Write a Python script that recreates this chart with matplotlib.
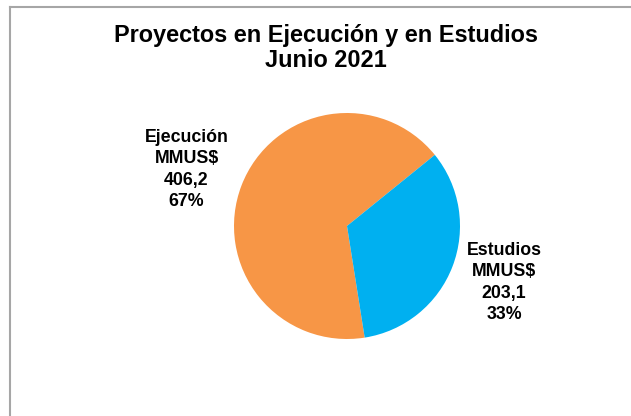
import matplotlib
matplotlib.use('Agg')
import matplotlib.pyplot as plt
from matplotlib.lines import Line2D

### data
categories = ['Ejecución', 'Estudios']
amounts = [406.2, 203.1]
colors = ['#F79646', '#00B0F0']
title = 'Proyectos en Ejecución y en Estudios\nJunio 2021'

plt.rcParams['font.family'] = ['Liberation Sans', 'DejaVu Sans']

total = sum(amounts)
labels = []
for name, val in zip(categories, amounts):
    pct = round(100.0 * val / total)
    labels.append('%s\nMMUS$\n%s\n%d%%' % (name, ('%.1f' % val).replace('.', ','), pct))

fig = plt.figure(figsize=(6.31, 4.16), dpi=100)

### frame lines (top and left, as in the cropped source)
fig.add_artist(Line2D([10/631., 1.0], [1 - 7/416., 1 - 7/416.], color='#a6a6a6', lw=1.5))
fig.add_artist(Line2D([10/631., 10/631.], [0.0, 1 - 7/416.], color='#a6a6a6', lw=1.5))

fig.text(325.5/631., 1 - 48/416., title, ha='center', va='center', fontsize=16.9,
         fontweight='bold', linespacing=1.1)

ax = fig.add_axes([(347 - 113)/631., (416 - 339)/416., 226/631., 226/416.])
wedges, texts = ax.pie(amounts, labels=labels, colors=colors, startangle=-81,
                       counterclock=False, labeldistance=1.49,
                       wedgeprops=dict(linewidth=0),
                       textprops=dict(fontsize=12.8, fontweight='bold'))
### nudge label blocks to where they sit in the reference
label_pos = [(-1.42, 0.50), (1.39, -0.50)]
for t, p in zip(texts, label_pos):
    t.set_position(p)
    t.set_ha('center')
    t.set_va('center')
    t.set_linespacing(1.33)
ax.set_aspect('equal')
ax.set_xlim(-1, 1)
ax.set_ylim(-1, 1)

plt.savefig('out.png', dpi=100)
